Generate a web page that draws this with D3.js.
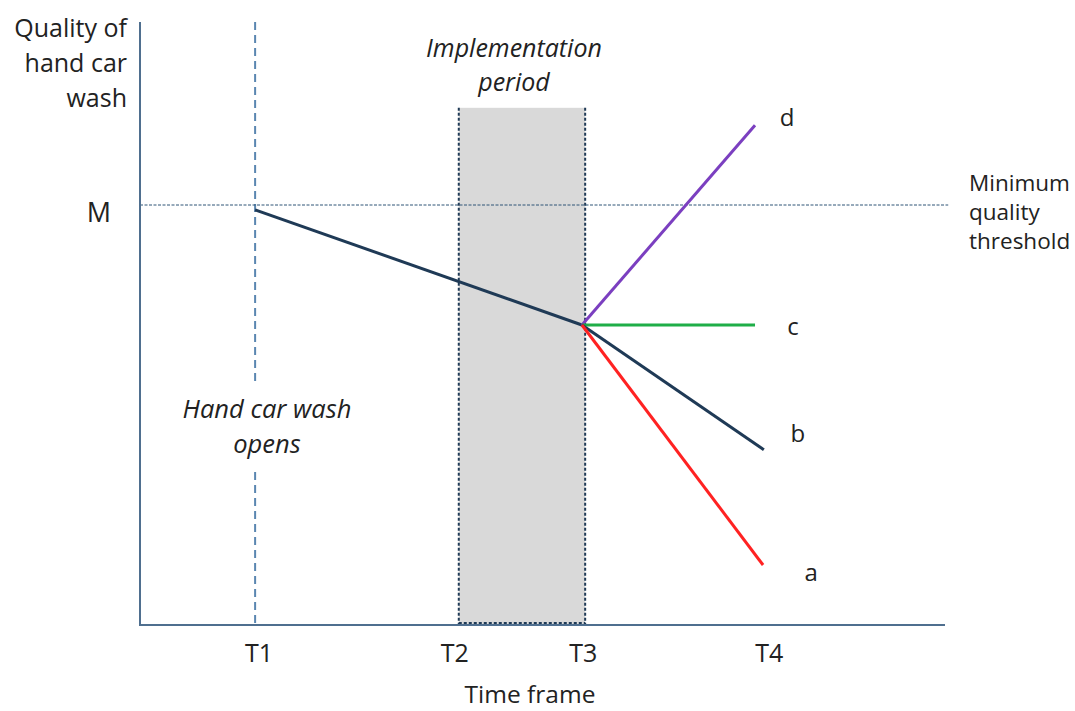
<!DOCTYPE html>
<html><head><meta charset="utf-8">
<script src="https://cdn.jsdelivr.net/npm/d3@7"></script>
<style>body{margin:0;background:#fff}svg{display:block}text{font-family:"Open Sans",sans-serif;fill:#222}</style>
</head><body><svg id="c" width="1075" height="711"></svg>
<script>
// Data (abstract units: time 0-100, quality 0-100)
const tickLabels = ["T1", "T2", "T3", "T4"];
const tickTimes = [14.3, 39.6, 55.3, 77.3];
const minimumThreshold = 70;
const declineStart = {t: 14.3, q: 69.2};
const pivot = {t: 54.9, q: 50};
const scenarioNames = ["d", "c", "b", "a"];
const scenarioEndTimes = [76.4, 76.4, 77.5, 77.4];
const scenarioEndValues = [83.3, 50, 29.2, 10];
const scenarioColors = ["#7b3fc0", "#1fae48", "#1f3a56", "#ff2222"];
const implementationPeriod = [39.6, 55.3];
const implementationTop = 86.2;

const svg = d3.select("#c");
const x = d3.scaleLinear().domain([0, 100]).range([140, 945]);
const y = d3.scaleLinear().domain([0, 100]).range([625, 25]);
const axisColor = "#4f6f8f";

// Implementation shading
svg.append("rect")
  .attr("x", x(implementationPeriod[0])).attr("y", y(implementationTop))
  .attr("width", x(implementationPeriod[1]) - x(implementationPeriod[0]))
  .attr("height", y(0) - y(implementationTop))
  .attr("fill", "#d9d9d9");
implementationPeriod.forEach(t => {
  svg.append("line").attr("x1", x(t)).attr("x2", x(t)).attr("y1", y(implementationTop)).attr("y2", y(0))
    .attr("stroke", "#1f3a56").attr("stroke-width", 2).attr("stroke-dasharray", "3,2");
});
svg.append("line").attr("x1", x(implementationPeriod[0])).attr("x2", x(implementationPeriod[1]))
  .attr("y1", y(0) - 2).attr("y2", y(0) - 2)
  .attr("stroke", "#1f3a56").attr("stroke-width", 2).attr("stroke-dasharray", "3,2");

// T1 dashed line (split around annotation)
const t1 = tickTimes[0];
[[100.5, 40.5], [25.5, 0]].forEach(([a, b]) => {
  svg.append("line").attr("x1", x(t1)).attr("x2", x(t1)).attr("y1", y(a)).attr("y2", y(b))
    .attr("stroke", "#5a86b0").attr("stroke-width", 2).attr("stroke-dasharray", "8,5");
});

// Minimum threshold line
svg.append("line").attr("x1", x(0)).attr("x2", x(100.4)).attr("y1", y(minimumThreshold)).attr("y2", y(minimumThreshold))
  .attr("stroke", "#2f5577").attr("stroke-width", 1).attr("stroke-dasharray", "3,1.5");

// Axes
svg.append("line").attr("x1", x(0)).attr("x2", x(0)).attr("y1", y(100.5)).attr("y2", y(0))
  .attr("stroke", axisColor).attr("stroke-width", 2);
svg.append("line").attr("x1", x(0) - 1).attr("x2", x(100)).attr("y1", y(0)).attr("y2", y(0))
  .attr("stroke", axisColor).attr("stroke-width", 2);

// Decline line
const line = d3.line().x(d => x(d.t)).y(d => y(d.q));
svg.append("path").attr("d", line([declineStart, pivot])).attr("fill", "none")
  .attr("stroke", "#1f3a56").attr("stroke-width", 3);

// Scenarios
scenarioNames.forEach((n, i) => {
  svg.append("path").attr("d", line([pivot, {t: scenarioEndTimes[i], q: scenarioEndValues[i]}]))
    .attr("fill", "none").attr("stroke", scenarioColors[i]).attr("stroke-width", 3);
});
const labelOffsets = [[32, -8], [38, 1], [34, -17], [48, 7]];
scenarioNames.forEach((n, i) => {
  svg.append("text").attr("x", x(scenarioEndTimes[i]) + labelOffsets[i][0])
    .attr("y", y(scenarioEndValues[i]) + labelOffsets[i][1] + 9)
    .attr("text-anchor", "middle").attr("font-size", 24).text(n);
});

// Tick labels
tickLabels.forEach((l, i) => {
  svg.append("text").attr("x", x(tickTimes[i]) + [4, -4, -2, 7][i]).attr("y", 662)
    .attr("text-anchor", "middle").attr("font-size", 25).text(l);
});
svg.append("text").attr("x", 530).attr("y", 703).attr("text-anchor", "middle").attr("font-size", 24.5).text("Time frame");

function multiline(xp, yp, lines, dy, attrs) {
  const t = svg.append("text").attr("x", xp).attr("y", yp);
  Object.entries(attrs).forEach(([k, v]) => t.attr(k, v));
  lines.forEach((s, i) => t.append("tspan").attr("x", xp).attr("dy", i ? dy : 0).text(s));
}

// Y label
multiline(127, 37, ["Quality of", "hand car", "wash"], 35, {"text-anchor": "end", "font-size": 25});
svg.append("text").attr("x", 99).attr("y", y(minimumThreshold) + 17).attr("text-anchor", "middle").attr("font-size", 27).text("M");

// Threshold label
multiline(969, 191, ["Minimum", "quality", "threshold"], 29, {"font-size": 22.5});

// Annotations
multiline(514, 57, ["Implementation", "period"], 34, {"text-anchor": "middle", "font-size": 25, "font-style": "italic"});
multiline(267, 418, ["Hand car wash", "opens"], 34.5, {"text-anchor": "middle", "font-size": 25.5, "font-style": "italic"});
</script></body></html>
